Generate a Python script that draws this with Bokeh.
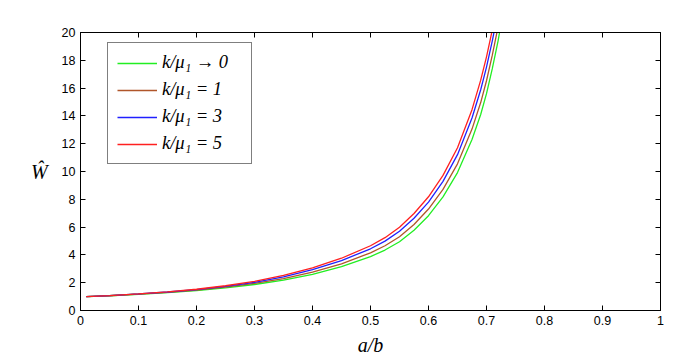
from bokeh.plotting import figure
from bokeh.models import ColumnDataSource, FixedTicker, LinearAxis, Legend, LegendItem, Range1d
from bokeh.embed import file_html
from bokeh.resources import INLINE

# ---- data ----
a_over_b = [0.01, 0.05, 0.1, 0.15, 0.2, 0.25, 0.3, 0.35, 0.4, 0.45, 0.5, 0.525, 0.55, 0.575,
            0.6, 0.625, 0.65, 0.675, 0.69, 0.7, 0.71, 0.72, 0.73]
w_k0 = [1.0, 1.06, 1.17, 1.29, 1.44, 1.63, 1.87, 2.18, 2.6, 3.15, 3.88, 4.35, 4.95, 5.77,
        6.82, 8.17, 9.92, 12.3, 14.1, 15.6, 17.4, 19.4, 21.8]
w_k1 = [1.0, 1.06, 1.18, 1.31, 1.47, 1.68, 1.95, 2.30, 2.76, 3.36, 4.15, 4.66, 5.31, 6.19,
        7.30, 8.71, 10.55, 13.05, 14.96, 16.53, 18.37, 20.42, 22.87]
w_k3 = [1.0, 1.07, 1.19, 1.33, 1.50, 1.74, 2.03, 2.42, 2.94, 3.59, 4.44, 4.99, 5.70, 6.64,
        7.80, 9.29, 11.21, 13.85, 15.88, 17.51, 19.40, 21.50, 24.0]
w_k5 = [1.0, 1.07, 1.20, 1.34, 1.53, 1.78, 2.09, 2.52, 3.07, 3.76, 4.66, 5.24, 5.99, 6.98,
        8.18, 9.72, 11.71, 14.45, 16.57, 18.25, 20.18, 22.31, 24.85]

series_labels = ["k/μ₁ → 0", "k/μ₁ = 1", "k/μ₁ = 3", "k/μ₁ = 5"]
series_colors = ["#22ee22", "#b0562a", "#2020ff", "#ff2020"]

x_ticks = [0, 0.1, 0.2, 0.3, 0.4, 0.5, 0.6, 0.7, 0.8, 0.9, 1]
x_tick_labels = ["0", "0.1", "0.2", "0.3", "0.4", "0.5", "0.6", "0.7", "0.8", "0.9", "1"]
y_ticks = [0, 2, 4, 6, 8, 10, 12, 14, 16, 18, 20]

p = figure(output_backend="svg", toolbar_location=None,
           frame_width=580, frame_height=278,
           min_border_left=80, min_border_top=32, min_border_right=22, min_border_bottom=40,
           x_range=Range1d(0, 1), y_range=Range1d(0, 20))
p.background_fill_color = "white"
p.border_fill_color = "white"
p.outline_line_color = "black"
p.outline_line_width = 1
p.xgrid.visible = False
p.ygrid.visible = False

src = ColumnDataSource(dict(x=a_over_b, k0=w_k0, k1=w_k1, k3=w_k3, k5=w_k5))
renderers = []
for col, color in zip(["k0", "k1", "k3", "k5"], series_colors):
    r = p.line("x", col, source=src, line_color=color, line_width=1.3)
    renderers.append(r)

tick_font = "Liberation Sans"

def style_axis(ax, show_labels):
    ax.axis_line_color = "black"
    ax.major_tick_line_color = "black"
    ax.major_tick_in = 5
    ax.major_tick_out = 0
    ax.minor_tick_line_color = None
    ax.major_label_text_font = tick_font
    ax.major_label_text_font_size = "12.5px"
    ax.major_label_text_color = "black"
    ax.major_label_standoff = 5
    if not show_labels:
        ax.major_label_text_font_size = "0px"
        ax.major_label_text_color = None

xa = p.xaxis[0]
xa.ticker = FixedTicker(ticks=x_ticks)
xa.major_label_overrides = {t: l for t, l in zip(x_ticks, x_tick_labels)}
style_axis(xa, True)
xa.axis_label = "a/b"
xa.axis_label_text_font = "Liberation Serif"
xa.axis_label_text_font_style = "italic"
xa.axis_label_text_font_size = "20px"
xa.axis_label_text_color = "black"
xa.axis_label_standoff = 6

ya = p.yaxis[0]
ya.ticker = FixedTicker(ticks=y_ticks)
style_axis(ya, True)
ya.axis_label = "Ŵ"
ya.axis_label_text_font = "Liberation Serif"
ya.axis_label_text_font_style = "italic"
ya.axis_label_text_font_size = "20px"
ya.axis_label_text_color = "black"
ya.axis_label_orientation = "horizontal"
ya.axis_label_standoff = 11

top = LinearAxis(ticker=FixedTicker(ticks=x_ticks))
style_axis(top, False)
p.add_layout(top, "above")
right = LinearAxis(ticker=FixedTicker(ticks=y_ticks))
style_axis(right, False)
p.add_layout(right, "right")

legend = Legend(items=[LegendItem(label=l, renderers=[r]) for l, r in zip(series_labels, renderers)],
                location=(27, 146))
legend.label_text_font = "Liberation Serif"
legend.label_text_font_style = "italic"
legend.label_text_font_size = "18.5px"
legend.label_text_color = "black"
legend.label_height = 20
legend.label_width = 80
legend.glyph_height = 20
legend.glyph_width = 40
legend.label_standoff = 5
legend.spacing = 6
legend.padding = 9
legend.margin = 0
legend.border_line_color = "black"
legend.border_line_width = 1.5
legend.background_fill_color = "white"
legend.background_fill_alpha = 1
p.add_layout(legend, "center")

open("out.html", "w").write(file_html(p, INLINE))
